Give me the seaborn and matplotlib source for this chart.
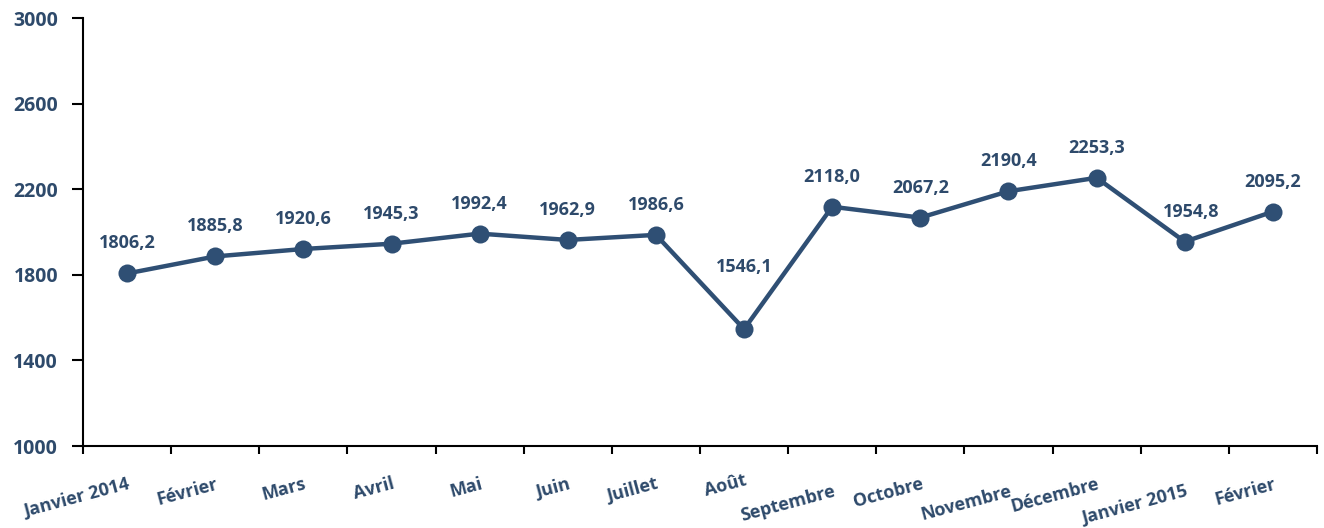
import numpy as np
import pandas as pd
import matplotlib
matplotlib.use("Agg")
import matplotlib.pyplot as plt
import seaborn as sns

months = ["Janvier 2014", "Février", "Mars", "Avril", "Mai", "Juin", "Juillet",
          "Août", "Septembre", "Octobre", "Novembre", "Décembre",
          "Janvier 2015", "Février"]
values = [1806.2, 1885.8, 1920.6, 1945.3, 1992.4, 1962.9, 1986.6,
          1546.1, 2118.0, 2067.2, 2190.4, 2253.3, 1954.8, 2095.2]
yticks = [1000, 1400, 1800, 2200, 2600, 3000]

navy = "#2E4A6B"
line_col = "#2F4F74"

sns.set_style("white", {"xtick.bottom": True, "ytick.left": True})
plt.rcParams["font.family"] = ["Open Sans", "DejaVu Sans"]

df = pd.DataFrame({"pos": np.arange(len(values)), "val": values})

fig = plt.figure(figsize=(13.24, 5.28), dpi=100)
ax = fig.add_axes([0.0627, 0.1553, 0.932, 0.8106])

sns.lineplot(data=df, x="pos", y="val", ax=ax, color=line_col, linewidth=3.2,
             marker="o", markersize=13, markeredgewidth=0, markerfacecolor=line_col)

# value labels (point offsets in pixels)
offsets = {7: (0, 62), 12: (6, 30)}
for i, v in enumerate(values):
    dx, dy = offsets.get(i, (0, 30))
    ax.annotate(f"{v:.1f}".replace(".", ","), (i, v), xytext=(dx, dy),
                textcoords="offset pixels", ha="center", va="center",
                fontsize=13, fontweight="bold", color=navy)

ax.set_xlim(-0.5, len(values) - 0.5)
ax.set_ylim(1000, 3000)
ax.set_yticks(yticks)
ax.set_yticklabels([str(t) for t in yticks], fontsize=14, fontweight="bold", color=navy)

# tick marks at category boundaries, labels at centers
ax.set_xticks(np.arange(-0.5, len(values)), minor=True)
ax.set_xticks(np.arange(len(values)))
ax.set_xticklabels(months, rotation=15, ha="right", rotation_mode="anchor",
                   fontsize=13, fontweight="bold", color=navy)
ax.tick_params(axis="x", which="major", length=0, pad=21)
ax.tick_params(axis="x", which="minor", bottom=True, length=6, width=1.5,
               color="black", direction="out")
ax.tick_params(axis="y", left=True, length=8, width=1.5, color="black",
               direction="out", pad=10)

# stagger a few long labels lower, like the original
for i, lab in enumerate(ax.get_xticklabels()):
    if i in (8, 10, 12):
        lab.set_y(-0.016)
    if i == 7:
        lab.set_y(0.01)

for s in ["top", "right"]:
    ax.spines[s].set_visible(False)
for s in ["left", "bottom"]:
    ax.spines[s].set_color("black")
    ax.spines[s].set_linewidth(1.5)

ax.set_xlabel("")
ax.set_ylabel("")

fig.savefig("out.png", dpi=100)
